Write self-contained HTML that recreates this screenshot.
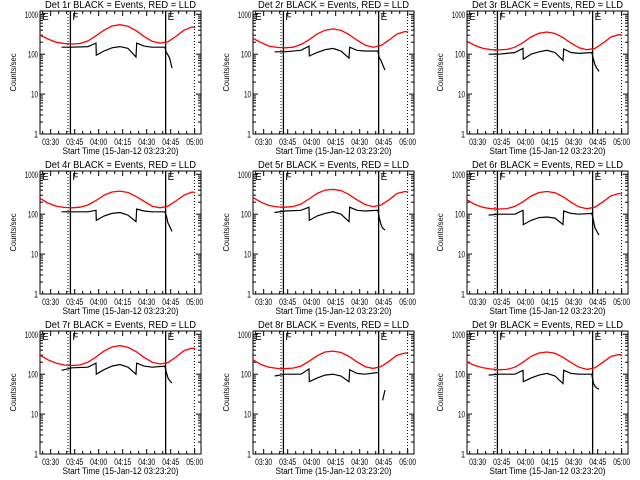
<!DOCTYPE html>
<html><head><meta charset="utf-8"><style>
html,body{margin:0;padding:0;background:#fff;}
svg{display:block;font-family:"Liberation Sans",sans-serif;}
</style></head><body>
<svg id="fig" width="640" height="480" viewBox="0 0 640 480"></svg>
<script>
const panelNames=["1r","2r","3r","4r","5r","6r","7r","8r","9r"];
const redTimes=[0,5,10,15,20,25,30,35,40,45,50,55,60,65,70,75,80,85,90,95,97];
const red1=[300,240,200,185,180,185,215,290,400,510,550,500,390,280,210,190,205,280,400,480,460];
const red2=[250,195,160,148,145,150,175,230,320,400,430,395,310,225,170,150,165,225,320,370,360];
const red3=[210,165,140,130,128,132,150,195,270,335,360,330,260,190,145,130,140,190,270,310,300];
const red4=[250,190,160,148,145,150,170,220,300,360,380,350,280,210,160,145,160,215,300,360,350];
const red5=[260,200,165,152,150,155,180,240,330,400,420,390,310,230,175,155,170,230,330,370,360];
const red6=[230,175,148,137,135,138,158,205,285,350,370,345,275,200,152,137,150,205,290,330,320];
const red7=[300,230,190,170,165,170,200,270,380,480,520,470,370,265,200,180,195,270,390,450,440];
const red8=[230,175,150,140,138,142,160,210,290,360,380,350,280,205,155,140,155,210,300,340,330];
const red9=[200,165,145,135,130,132,150,200,280,340,360,335,265,195,150,132,145,200,280,310,300];
const blackTimes=[13.5,20,30,35,35.2,40,45,50,55,60,60.4,65,70,78,79,80,81,82.5];
const black1=[150,150,155,190,95,120,145,155,140,85,190,160,150,150,110,95,80,45];
const black2=[115,115,125,160,90,110,130,140,120,80,150,125,120,120,80,70,55,40];
const black3=[100,100,110,140,75,100,115,125,110,70,135,110,105,110,75,55,45,37];
const black4=[115,115,115,125,70,90,105,110,95,65,135,120,115,115,90,60,50,37];
const black5=[110,120,125,150,70,90,105,115,100,65,150,125,120,125,80,55,45,40];
const black6=[95,100,100,125,55,70,82,85,80,55,120,105,100,105,70,45,38,30];
const black7=[125,145,150,190,100,130,160,175,150,100,190,160,150,160,110,80,70,60];
const black8=[90,100,100,135,65,80,95,100,90,65,130,105,100,110,null,null,22,40];
const black9=[95,100,100,125,65,80,95,105,90,58,125,105,100,100,60,50,45,42];
const reds=[red1,red2,red3,red4,red5,red6,red7,red8,red9];
const blacks=[black1,black2,black3,black4,black5,black6,black7,black8,black9];
const xTickMinutes=[6.667,21.667,36.667,51.667,66.667,81.667,96.667];
const xTickLabels=["03:30","03:45","04:00","04:15","04:30","04:45","05:00"];
const yTickValues=[1,10,100,1000];
const yTickLabels=["1","10","100","1000"];
const markerTimes=[17.5,19,78.5,96.5];
const markerStyles=["dotted","solid","solid","dotted"];

const NS="http://www.w3.org/2000/svg";
const svg=document.getElementById("fig");
function mk(tag,attrs,parent){const e=document.createElementNS(NS,tag);for(const k in attrs)e.setAttribute(k,attrs[k]);parent.appendChild(e);return e;}
const colLeft=[40,253,467], rowTop=[11,171,331], W=161, H=123, XMAX=100.6, DEC=39.9;

for(let p=0;p<9;p++){
  const L=colLeft[p%3], T=rowTop[Math.floor(p/3)], B=T+H, R=L+W;
  const xs=m=>L+m/XMAX*W;
  const ys=v=>B-Math.log10(v)*DEC;
  const g=mk("g",{},svg);
  
  
  const t=mk("text",{x:L+5,y:T-3,"font-size":"10",textLength:151,lengthAdjust:"spacingAndGlyphs"},g);
  t.textContent="Det "+panelNames[p]+" BLACK = Events, RED = LLD";
  
  
  const box=mk("rect",{x:L,y:T,width:W,height:H,fill:"none",stroke:"#000","stroke-width":1},g);
  
  
  for(let d=0;d<4;d++){
    for(let k=1;k<10;k++){
      const v=Math.pow(10,d)*k; const y=ys(v); if(y<T)break;
      const len=k===1?5:3;
      mk("line",{x1:L,x2:L+len,y1:y,y2:y,stroke:"#000"},g);
      mk("line",{x1:R,x2:R-len,y1:y,y2:y,stroke:"#000"},g);
    }
  }
  yTickValues.forEach((v,i)=>{
    const w=[4,7,10,13][i];
    const tl=mk("text",{x:L-2-w,y:ys(v)+3.5,"font-size":"9",textLength:w,lengthAdjust:"spacingAndGlyphs"},g);
    tl.textContent=yTickLabels[i];
    
    
  });
  for(let m=1.667;m<XMAX;m+=5){
    const major=xTickMinutes.some(a=>Math.abs(a-m)<0.1);
    const len=major?5:3; const x=xs(m);
    mk("line",{x1:x,x2:x,y1:B,y2:B-len,stroke:"#000"},g);
    mk("line",{x1:x,x2:x,y1:T,y2:T+len,stroke:"#000"},g);
  }
  xTickLabels.forEach((s,i)=>{
    const tl=mk("text",{x:xs(xTickMinutes[i])-8.5,y:B+11,"font-size":"9",textLength:17,lengthAdjust:"spacingAndGlyphs"},g);
    tl.textContent=s;
    
    
  });
  const xt=mk("text",{x:(L+R)/2-58,y:B+20,"font-size":"9.5",textLength:116,lengthAdjust:"spacingAndGlyphs"},g);
  xt.textContent="Start Time (15-Jan-12 03:23:20)";
  
  
  const yt=mk("text",{x:-19,y:0,"font-size":"8.5",textLength:38,lengthAdjust:"spacingAndGlyphs",transform:"translate("+(L-24)+","+(T+H/2)+") rotate(-90)"},g);
  yt.textContent="Counts/sec";
  
  
  markerTimes.forEach((m,i)=>{
    const x=xs(m);
    const ln=mk("line",{x1:x,x2:x,y1:T,y2:B,stroke:"#000","stroke-width":markerStyles[i]==="solid"?1.3:1,"stroke-dasharray":markerStyles[i]==="dotted"?"1,2":"none"},g);
    
    
  });
  [["E",0],["F",19],["E",78.5]].forEach(a=>{
    const tl=mk("text",{x:xs(a[1])+2,y:T+9,"font-size":"10"},g);
    tl.textContent=a[0];
    
    
  });
  const rd=reds[p].map((v,i)=>(i?"L":"M")+xs(redTimes[i]).toFixed(1)+","+ys(v).toFixed(1)).join(" ");
  const rp=mk("path",{d:rd,fill:"none",stroke:"#f00","stroke-width":1.3},g);
  
  
  let bd="",pen=false;
  blacks[p].forEach((v,i)=>{
    if(v===null){pen=false;return;}
    bd+=(pen?"L":"M")+xs(blackTimes[i]).toFixed(1)+","+ys(v).toFixed(1)+" ";pen=true;
  });
  const bp=mk("path",{d:bd,fill:"none",stroke:"#000","stroke-width":1.2},g);
  
  
}
</script>
</body></html>
